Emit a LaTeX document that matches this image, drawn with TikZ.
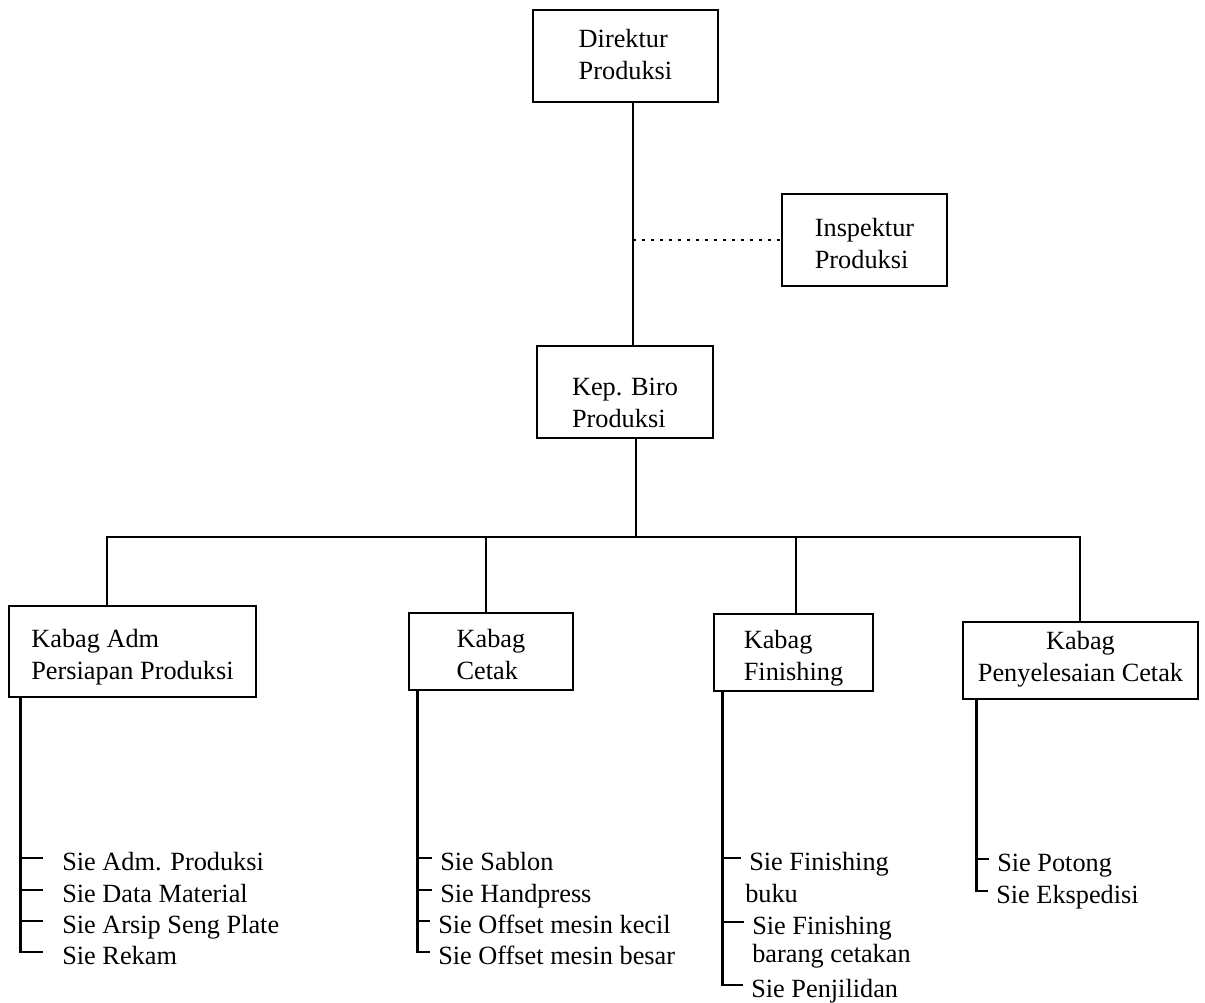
\documentclass[tikz,border=0pt]{standalone}
\usepackage{fontspec}
\setmainfont{Liberation Serif}
\usetikzlibrary{positioning}
\newcommand{\orgfont}{\fontsize{18.7}{22.8}\selectfont}

\begin{document}
\begin{tikzpicture}[x=0.025cm,y=-0.025cm]
  \tikzset{
    box/.style={draw=black, line width=2pt, inner sep=0pt, align=left, text depth=0pt, font=\orgfont},
    conn/.style={black, line width=1.6pt},
    staff/.style={black, line width=1.5pt, dash pattern=on 2pt off 4.4pt},
    sie/.style={anchor=base west, inner sep=0pt, text height=17pt, text depth=0pt, font=\orgfont}
  }
  \useasboundingbox (0,0) rectangle (1205,1003);

  % Top of the chart
  \node[box, text height=34pt, minimum width=4.625cm, minimum height=2.3cm] (dir) at (625.5,56) {Direktur\\Produksi};
  \node[box, text height=41pt, minimum width=4.125cm, minimum height=2.3cm] (insp) at (864.5,240) {Inspektur\\Produksi};
  \node[box, text height=51pt, minimum width=4.4cm, minimum height=2.3cm] (kep) at (625,392) {Kep. Biro\\Produksi};

  \coordinate (spine) at ([xshift=0.18cm]dir.south);
  \draw[conn] (spine) -- (spine |- kep.north);
  \draw[staff] (spine |- insp.west) -- (insp.west);

  % Kabag level
  \node[box, text height=40.4pt, minimum width=6.175cm, minimum height=2.275cm] (adm) at (132.5,651.5) {Kabag Adm\\Persiapan Produksi};
  \node[box, text height=40.4pt, minimum width=4.1cm, minimum height=1.925cm] (cetak) at (491,651.5) {Kabag\\Cetak};
  \node[box, text height=40.4pt, minimum width=3.975cm, minimum height=1.925cm] (fin) at (793.5,652.5) {Kabag\\Finishing};
  \node[box, align=center, text height=30.5pt, minimum width=5.875cm, minimum height=1.925cm] (pen) at (1080.5,660.5) {Kabag\\Penyelesaian Cetak};

  % Bus line
  \coordinate (busL) at (107,537);
  \coordinate (busR) at (1080,537);
  \coordinate (kepstem) at ([xshift=0.275cm]kep.south);
  \draw[conn] (kepstem) -- (kepstem |- busL);
  \draw[conn] (busL |- adm.north) -- (busL) -- (busR) -- (busR |- pen.north);
  \draw[conn] ([xshift=-0.125cm]cetak.north) -- ([xshift=-0.125cm]cetak.north |- busL);
  \draw[conn] ([xshift=0.06cm]fin.north) -- ([xshift=0.06cm]fin.north |- busL);

  % Sie lists
  \node[sie] (a1) at (62,870) {Sie Adm. Produksi};
  \node[sie] (a2) at (62,902) {Sie Data Material};
  \node[sie] (a3) at (62,933) {Sie Arsip Seng Plate};
  \node[sie] (a4) at (62,964) {Sie Rekam};

  \node[sie] (c1) at (440,870) {Sie Sablon};
  \node[sie] (c2) at (440,902) {Sie Handpress};
  \node[sie] (c3) at (438,933) {Sie Offset mesin kecil};
  \node[sie] (c4) at (438,964) {Sie Offset mesin besar};

  \node[sie] (f1) at (749,870) {Sie Finishing};
  \node[sie] (f1b) at (745,902) {buku};
  \node[sie] (f2) at (752,934) {Sie Finishing};
  \node[sie] (f2b) at (752,962) {barang cetakan};
  \node[sie] (f3) at (751,997) {Sie Penjilidan};

  \node[sie] (p1) at (997,871) {Sie Potong};
  \node[sie] (p2) at (996,903) {Sie Ekspedisi};

  % Stems and ticks
  \coordinate (admstem) at ([xshift=0.325cm]adm.south west);
  \draw[conn] (admstem) |- ([xshift=-0.475cm]a4.west);
  \foreach \s in {a1,a2,a3}
    \draw[conn] (admstem |- \s.west) -- ([xshift=-0.475cm]\s.west);

  \coordinate (cetakstem) at ([xshift=0.25cm]cetak.south west);
  \draw[conn] (cetakstem) |- ([xshift=-0.2cm]c4.west);
  \foreach \s in {c1,c2,c3}
    \draw[conn] (cetakstem |- \s.west) -- ([xshift=-0.2cm]\s.west);

  \coordinate (finstem) at ([xshift=0.25cm]fin.south west);
  \draw[conn] (finstem) |- ([xshift=-0.2cm]f3.west);
  \foreach \s in {f1,f2}
    \draw[conn] (finstem |- \s.west) -- ([xshift=-0.2cm]\s.west);

  \coordinate (penstem) at ([xshift=0.375cm]pen.south west);
  \draw[conn] (penstem) |- ([xshift=-0.2cm]p2.west);
  \draw[conn] (penstem |- p1.west) -- ([xshift=-0.2cm]p1.west);
\end{tikzpicture}
\end{document}
